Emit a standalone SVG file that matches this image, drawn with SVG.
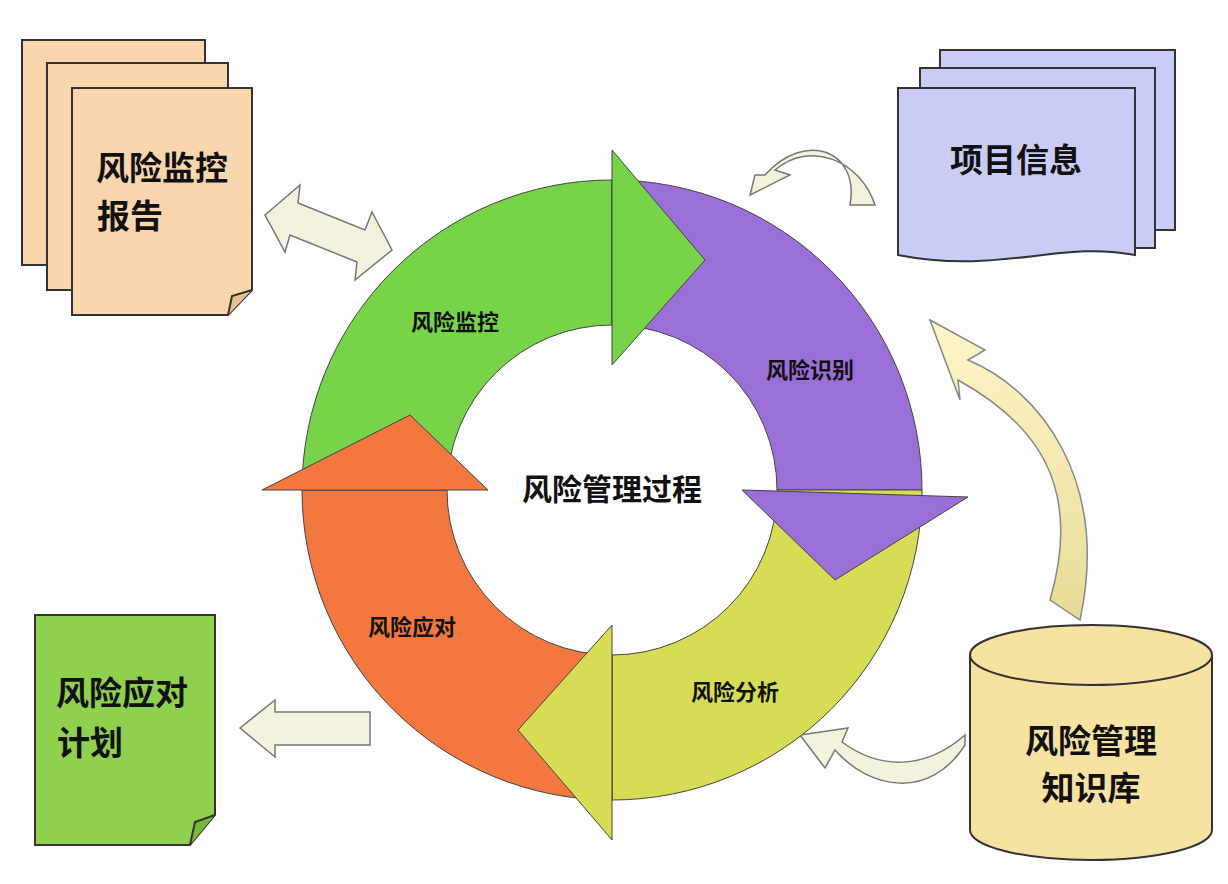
<svg xmlns="http://www.w3.org/2000/svg" width="1228" height="884" viewBox="0 0 1228 884">
<style>
.t{font-family:"Noto Sans CJK SC","Noto Sans",sans-serif;font-weight:bold;fill:#111}
.doc{stroke:#333;stroke-width:2}
.ar{fill:#f4f1de;stroke:#777;stroke-width:1.5}
</style>
<defs>
<linearGradient id="yg" x1="0" y1="0" x2="0" y2="1"><stop offset="0" stop-color="#fff6c8"/><stop offset="1" stop-color="#e6dc98"/></linearGradient>
</defs>
<rect width="1228" height="884" fill="#fdfdfd"/>
<g id="connectors">
<path class="ar" d="M265,215 L300,185 L298,203 L365,230 L372,212 L392,250 L355,280 L357,262 L290,235 L285,252 Z"/>
<path class="ar" d="M875,205 C860,160 810,140 775,170 L790,175 L750,195 L755,175 L765,175 C805,130 860,150 850,205 Z"/>
<path d="M930,320 L985,350 L968,360 C1040,390 1110,480 1080,620 L1050,600 C1085,480 1030,420 958,380 L960,400 Z" fill="url(#yg)" stroke="#888" stroke-width="1.5"/>
<path class="ar" d="M965,745 C930,800 870,790 835,750 L825,768 L800,735 L848,728 L842,742 C880,770 925,770 965,735 Z"/>
<path class="ar" d="M240,728 L275,700 L275,712 L370,712 L370,745 L275,745 L275,757 Z"/>
</g>
<g id="cycle" stroke="#444" stroke-width="1">
<path fill="#77d449" d="M302,490 A310,310 0 0 1 612,180 L612,325 A165,165 0 0 0 447,490 Z"/>
<path fill="#9b6fd8" d="M612,180 A310,310 0 0 1 922,490 L777,490 A165,165 0 0 0 612,325 Z"/>
<path fill="#d6dd55" d="M922,490 A310,310 0 0 1 612,800 L612,655 A165,165 0 0 0 777,490 Z"/>
<path fill="#f27840" d="M612,800 A310,310 0 0 1 302,490 L447,490 A165,165 0 0 0 612,655 Z"/>
<path fill="#77d449" d="M612,150 L612,365 L705,260 Z"/>
<path fill="#9b6fd8" d="M742,490 L968,497 L835,580 Z"/>
<path fill="#d6dd55" d="M612,625 L612,840 L518,730 Z"/>
<path fill="#f27840" d="M262,490 L488,490 L410,415 Z"/>
</g>
<g id="cycle-labels">
<text class="t" x="612" y="500" font-size="30" text-anchor="middle">风险管理过程</text>
<text class="t" x="455" y="330" font-size="22" text-anchor="middle">风险监控</text>
<text class="t" x="810" y="378" font-size="22" text-anchor="middle">风险识别</text>
<text class="t" x="735" y="700" font-size="22" text-anchor="middle">风险分析</text>
<text class="t" x="412" y="635" font-size="22" text-anchor="middle">风险应对</text>
</g>
<g id="monitor-report">
<rect class="doc" x="22" y="40" width="183" height="225" fill="#f9d6ae"/>
<rect class="doc" x="47" y="63" width="181" height="227" fill="#f9d6ae"/>
<path class="doc" d="M72,88 H252 V290 L228,315 H72 Z" fill="#f9d6ae"/>
<path class="doc" d="M252,290 L232,296 L228,315" fill="#e8bf90"/>
<text class="t" x="162" y="180" font-size="33" text-anchor="middle">风险监控</text>
<text class="t" x="130" y="228" font-size="33" text-anchor="middle">报告</text>
</g>
<g id="project-info">
<rect class="doc" x="940" y="50" width="235" height="180" fill="#c9cdf5"/>
<rect class="doc" x="920" y="68" width="235" height="180" fill="#c9cdf5"/>
<path class="doc" d="M898,88 H1135 V255 C1060,240 1000,275 898,255 Z" fill="#c9cdf5"/>
<text class="t" x="1016" y="172" font-size="33" text-anchor="middle">项目信息</text>
</g>
<g id="response-plan">
<path class="doc" d="M35,615 H215 V815 L190,845 H35 Z" fill="#8fd04f"/>
<path class="doc" d="M215,815 L195,822 L190,845" fill="#7ab83c"/>
<text class="t" x="122" y="705" font-size="33" text-anchor="middle">风险应对</text>
<text class="t" x="90" y="755" font-size="33" text-anchor="middle">计划</text>
</g>
<g id="knowledge-base">
<path class="doc" d="M970,655 V830 A121,30 0 0 0 1212,830 V655" fill="#f6e3a2"/>
<ellipse class="doc" cx="1091" cy="655" rx="121" ry="30" fill="#f6e3a2"/>
<text class="t" x="1091" y="753" font-size="33" text-anchor="middle">风险管理</text>
<text class="t" x="1091" y="800" font-size="33" text-anchor="middle">知识库</text>
</g>
</svg>
